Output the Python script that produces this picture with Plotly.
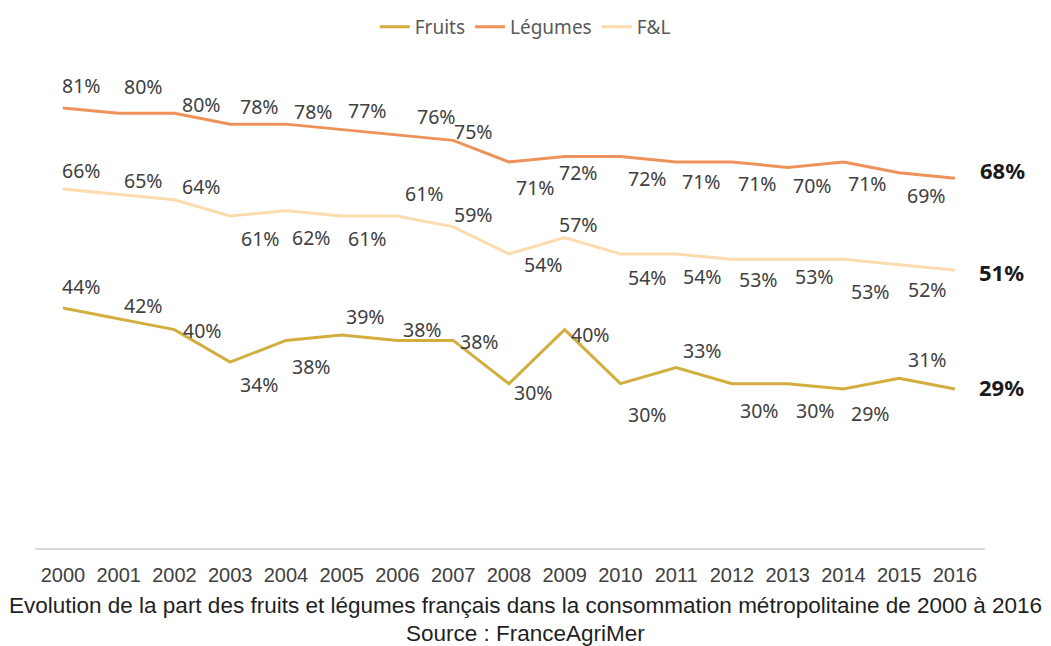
import plotly.graph_objects as go

# ---------------- data ----------------
years = [2000, 2001, 2002, 2003, 2004, 2005, 2006, 2007, 2008,
         2009, 2010, 2011, 2012, 2013, 2014, 2015, 2016]
fruits = [44, 42, 40, 34, 38, 39, 38, 38, 30, 40, 30, 33, 30, 30, 29, 31, 29]
legumes = [81, 80, 80, 78, 78, 77, 76, 75, 71, 72, 72, 71, 71, 70, 71, 69, 68]
fl = [66, 65, 64, 61, 62, 61, 61, 59, 54, 57, 54, 54, 53, 53, 53, 52, 51]

series_names = ["Fruits", "Légumes", "F&L"]
caption = "Evolution de la part des fruits et légumes français dans la consommation métropolitaine de 2000 à 2016"
source = "Source : FranceAgriMer"

# ---------------- style ----------------
colors = {"Fruits": "#D2AE3E", "Légumes": "#EF925A", "F&L": "#FDDBAE"}

# label offsets in screen pixels (dx right, dy down) for each point
off_legumes = [(19, -22), (25, -27), (27, -9), (29, -18), (28, -13), (26, -19), (39, -18),
               (20, -9), (27, 26), (14, 16), (27, 22), (25, 20), (26, 22), (25, 18),
               (24, 22), (27, 23), (48, -8)]
off_fl = [(19, -19), (25, -14), (27, -13), (30, 22), (26, 27), (26, 22), (27, -23),
          (20, -12), (35, 11), (14, -13), (27, 24), (26, 23), (27, 20), (27, 17),
          (27, 32), (28, 25), (47, 2)]
off_fruits = [(19, -21), (25, -13), (28, 1), (29, 22), (26, 26), (24, -19), (25, -11),
              (26, 1), (25, 9), (26, 5), (27, 31), (26, -17), (28, 27), (28, 27),
              (27, 24), (28, -19), (47, -2)]

label_font = dict(family="Noto Sans, DejaVu Sans, sans-serif", size=19.5, color="#404040")
end_font = dict(family="Noto Sans, DejaVu Sans, sans-serif", size=22, color="#1A1A1A")

fig = go.Figure()
data_map = {"Fruits": (fruits, off_fruits), "Légumes": (legumes, off_legumes), "F&L": (fl, off_fl)}

for name in series_names:
    vals, _ = data_map[name]
    fig.add_trace(go.Scatter(
        x=years, y=vals, mode="lines", name=name,
        line=dict(color=colors[name], width=3),
        hoverinfo="skip",
    ))

annotations = []
for name in series_names:
    vals, offs = data_map[name]
    n = len(vals)
    for i, (yr, v) in enumerate(zip(years, vals)):
        dx, dy = offs[i]
        last = i == n - 1
        annotations.append(dict(
            x=yr, y=v, xref="x", yref="y",
            text=(f"<b>{v}%</b>" if last else f"{v}%"),
            showarrow=False, xanchor="center", yanchor="middle",
            xshift=dx, yshift=-dy,
            font=end_font if last else label_font,
        ))

# figure is drawn with an 8px page offset, so size it to fit the window
fig_w, fig_h = 1043, 638
l_m, r_m, t_m, b_m = 27, 66, 52, 98
plot_w = fig_w - l_m - r_m
cx = (517 - l_m) / plot_w
cap_font = dict(family="Liberation Sans, Arial, sans-serif", size=22.5, color="#1F1F1F")
annotations.append(dict(x=cx, y=-0.117, xref="paper", yref="paper", text=caption,
                        showarrow=False, xanchor="center", yanchor="middle", font=cap_font))
annotations.append(dict(x=cx, y=-0.176, xref="paper", yref="paper", text=source,
                        showarrow=False, xanchor="center", yanchor="middle", font=cap_font))

fig.update_layout(
    width=fig_w, height=fig_h,
    margin=dict(l=l_m, r=r_m, t=t_m, b=b_m),
    paper_bgcolor="white", plot_bgcolor="white",
    showlegend=True,
    legend=dict(orientation="h", x=0.516, xanchor="center", y=1.0, yref="container",
                yanchor="top", font=dict(family="Noto Sans, DejaVu Sans, sans-serif",
                                         size=19, color="#595959"),
                itemwidth=30, tracegroupgap=0),
    annotations=annotations,
    xaxis=dict(range=[1999.5, 2016.54], tickmode="array", tickvals=years,
               ticktext=[str(y) for y in years], showgrid=False, zeroline=False,
               showline=True, linecolor="#D9D9D9", linewidth=2, ticks="",
               ticklabelstandoff=8,
               tickfont=dict(family="Liberation Sans, Arial, sans-serif",
                             size=20, color="#404040")),
    yaxis=dict(range=[-0.39, 89.86], visible=False, showgrid=False, zeroline=False),
)

fig.write_html("out.html")
